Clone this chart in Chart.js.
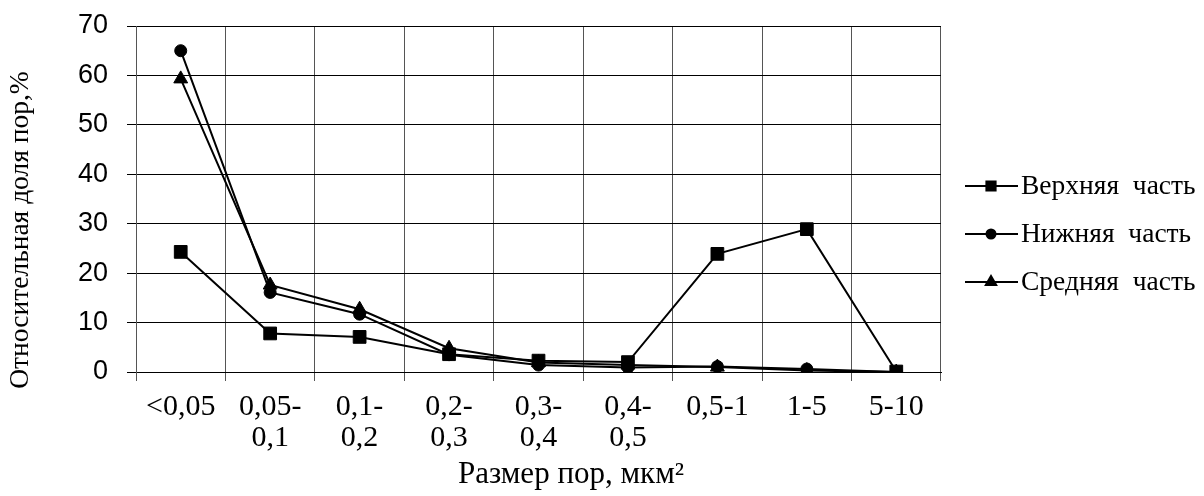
<!DOCTYPE html>
<html lang="ru">
<head>
    <meta charset="UTF-8">
    <title>Размер пор</title>
    <script src="https://cdn.jsdelivr.net/npm/chart.js@4"></script>
    <style>
        html, body { margin: 0; padding: 0; background: #fff; }
        .chart-box { width: 1204px; height: 496px; }
    </style>
</head>
<body>
    <div class="chart-box">
        <canvas id="pores-chart"></canvas>
    </div>

    <script>
        // Data
        const categories = [
            '<0,05', ['0,05-', '0,1'], ['0,1-', '0,2'], ['0,2-', '0,3'],
            ['0,3-', '0,4'], ['0,4-', '0,5'], '0,5-1', '1-5', '5-10'
        ];
        const upperPart = [24.3, 7.8, 7.1, 3.6, 2.3, 2.0, 23.9, 28.9, 0.1];
        const lowerPart = [65.0, 16.1, 11.7, 3.5, 1.4, 0.9, 1.1, 0.6, 0.0];
        const middlePart = [59.3, 17.6, 12.7, 4.8, 1.9, 1.4, 1.0, 0.3, 0.0];
        const seriesNames = ['Верхняя  часть', 'Нижняя  часть', 'Средняя  часть'];
        const yTicks = [0, 10, 20, 30, 40, 50, 60, 70];

        const serif = '"Liberation Serif", "Times New Roman", serif';
        const sans = '"Liberation Sans", Arial, sans-serif';

        // legend + axis titles drawn by hand to match the original placement
        const extrasPlugin = {
            id: 'extras',
            afterDraw(chart) {
                const ctx = chart.ctx;
                ctx.save();
                ctx.fillStyle = '#000';
                ctx.textBaseline = 'middle';

                // y axis title
                ctx.save();
                ctx.translate(21, 230);
                ctx.rotate(-Math.PI / 2);
                ctx.font = '27.5px ' + serif;
                ctx.textAlign = 'center';
                ctx.fillText('Относительная доля пор,%', 0, 0);
                ctx.restore();

                // x axis title
                ctx.font = '31px ' + serif;
                ctx.textAlign = 'center';
                ctx.fillText('Размер пор, мкм²', 571, 475);

                // legend
                chart.data.datasets.forEach((ds, i) => {
                    const y = 186 + i * 48;
                    ctx.strokeStyle = '#000';
                    ctx.lineWidth = 2;
                    ctx.beginPath();
                    ctx.moveTo(965, y);
                    ctx.lineTo(1018, y);
                    ctx.stroke();
                    Chart.helpers.drawPoint(ctx, {
                        pointStyle: ds.pointStyle,
                        radius: ds.legendRadius,
                        borderWidth: 1
                    }, 991, y);
                    ctx.fill();
                    ctx.textAlign = 'left';
                    ctx.font = '27.5px ' + serif;
                    ctx.fillText(ds.label, 1021, y + 1);
                });
                ctx.restore();
            }
        };

        function makeDataset(label, values, style, radius, legendRadius) {
            return {
                label: label,
                data: values,
                borderColor: '#000',
                backgroundColor: '#000',
                borderWidth: 2,
                pointStyle: style,
                pointRadius: radius,
                pointBorderWidth: 1,
                pointBackgroundColor: '#000',
                pointBorderColor: '#000',
                legendRadius: legendRadius,
                tension: 0
            };
        }

        const ctx = document.getElementById('pores-chart').getContext('2d');
        new Chart(ctx, {
            type: 'line',
            data: {
                labels: categories,
                datasets: [
                    makeDataset(seriesNames[0], upperPart, 'rect', 9, 6.5),
                    makeDataset(seriesNames[1], lowerPart, 'circle', 6, 4.5),
                    makeDataset(seriesNames[2], middlePart, 'triangle', 8, 6)
                ]
            },
            options: {
                responsive: true,
                maintainAspectRatio: false,
                animation: false,
                layout: {
                    padding: { left: 0, right: 263, top: 26, bottom: 0 }
                },
                plugins: {
                    legend: { display: false },
                    tooltip: { enabled: false }
                },
                scales: {
                    x: {
                        offset: true,
                        grid: {
                            offset: true,
                            color: '#555',
                            lineWidth: 1,
                            tickLength: 9,
                            tickColor: '#555'
                        },
                        border: { color: '#000', width: 1 },
                        ticks: {
                            color: '#000',
                            font: { family: serif, size: 30, lineHeight: 1.03 },
                            padding: 11,
                            maxRotation: 0,
                            autoSkip: false
                        },
                        afterFit(scale) {
                            scale.height = 124;
                            scale.paddingLeft = 0;
                            scale.paddingRight = 0;
                        }
                    },
                    y: {
                        min: 0,
                        max: 70,
                        afterBuildTicks(scale) {
                            scale.ticks = yTicks.map(v => ({ value: v }));
                        },
                        grid: {
                            color: '#000',
                            lineWidth: 1,
                            tickLength: 9,
                            tickColor: '#000'
                        },
                        border: { color: '#555', width: 1 },
                        ticks: {
                            color: '#000',
                            font: { family: sans, size: 27 },
                            padding: 19
                        },
                        afterFit(scale) {
                            scale.width = 136;
                            scale.paddingTop = 0;
                            scale.paddingBottom = 0;
                        }
                    }
                }
            },
            plugins: [extrasPlugin]
        });
    </script>
</body>
</html>
